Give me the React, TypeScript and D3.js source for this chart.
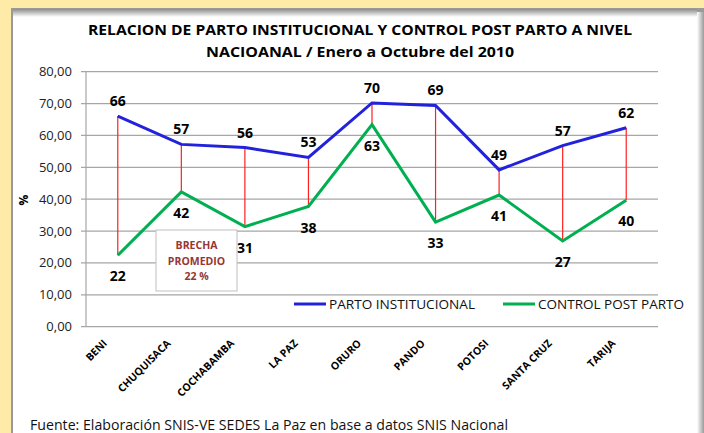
import { useEffect, useRef } from "react";
import * as d3 from "d3";

const departments = ["BENI", "CHUQUISACA", "COCHABAMBA", "LA PAZ", "ORURO", "PANDO", "POTOSI", "SANTA CRUZ", "TARIJA"];
const partoInstitucional = [66.1, 57.2, 56.2, 53.1, 70.2, 69.4, 49.2, 56.8, 62.4];
const controlPostParto = [22.4, 42.3, 31.4, 37.7, 63.4, 32.8, 41.3, 26.9, 39.7];
const yTicks = [0, 10, 20, 30, 40, 50, 60, 70, 80];
const titleLines = ["RELACION DE PARTO INSTITUCIONAL Y CONTROL POST PARTO A NIVEL", "NACIOANAL / Enero a Octubre del 2010"];
const noteLines = ["BRECHA", "PROMEDIO", "22 %"];

const FONT = "'Open Sans', 'Noto Sans', sans-serif";

function App() {
  const ref = useRef<SVGSVGElement>(null);

  useEffect(() => {
    draw();
    // eslint-disable-next-line
  }, []);

  function draw() {
    const svg = d3.select(ref.current);
    svg.selectAll("*").remove();

    const width = 704;
    const height = 433;
    const left = 86, right = 658, top = 71.7, bottom = 326.7;

    // background + panel
    svg.append("rect").attr("width", width).attr("height", height).attr("fill", "#FFEBA8");
    const defs = svg.append("defs");
    const gTop = defs.append("linearGradient").attr("id", "shTop").attr("x1", 0).attr("y1", 0).attr("x2", 0).attr("y2", 1);
    gTop.append("stop").attr("offset", 0).attr("stop-color", "#8c8c8c");
    gTop.append("stop").attr("offset", 1).attr("stop-color", "#ffffff");
    const gRight = defs.append("linearGradient").attr("id", "shRight").attr("x1", 0).attr("y1", 0).attr("x2", 1).attr("y2", 0);
    gRight.append("stop").attr("offset", 0).attr("stop-color", "#ffffff");
    gRight.append("stop").attr("offset", 1).attr("stop-color", "#9a9a9a");

    svg.append("rect").attr("x", 11).attr("y", 8).attr("width", 693).attr("height", height - 8).attr("fill", "#9a9a9a");
    svg.append("rect").attr("x", 13).attr("y", 9).attr("width", 684).attr("height", 8).attr("fill", "url(#shTop)");
    svg.append("rect").attr("x", 13).attr("y", 17).attr("width", 684).attr("height", height - 17).attr("fill", "#ffffff");
    svg.append("rect").attr("x", 697).attr("y", 12).attr("width", 7).attr("height", height - 12).attr("fill", "url(#shRight)");

    const x = d3.scaleBand().domain(departments).range([left, right]);
    const y = d3.scaleLinear().domain([0, 80]).range([bottom, top]);
    const cx = (d: string) => (x(d) as number) + x.bandwidth() / 2;

    // title
    svg.append("g").selectAll("text").data(titleLines).enter().append("text")
      .attr("x", 360)
      .attr("y", (_d, i) => 35 + i * 22)
      .attr("text-anchor", "middle")
      .attr("font-family", FONT)
      .attr("font-weight", "bold")
      .attr("font-size", 14.5)
      .attr("textLength", (_d, i) => (i === 0 ? 544 : 308))
      .attr("lengthAdjust", "spacingAndGlyphs")
      .text(d => d);

    // grid
    svg.append("g").selectAll("line").data(yTicks).enter().append("line")
      .attr("x1", left - 5).attr("x2", right)
      .attr("y1", d => y(d)).attr("y2", d => y(d))
      .attr("stroke", "#a6a6a6").attr("stroke-width", 1.2);
    svg.append("line").attr("x1", left).attr("x2", left).attr("y1", top).attr("y2", bottom)
      .attr("stroke", "#a6a6a6").attr("stroke-width", 1.2);

    svg.append("g").selectAll("text").data(yTicks).enter().append("text")
      .attr("x", left - 14)
      .attr("y", d => y(d) + 4.5)
      .attr("text-anchor", "end")
      .attr("font-family", FONT)
      .attr("font-size", 13)
      .attr("fill", "#222")
      .text(d => d3.format(".2f")(d).replace(".", ","));

    svg.append("text")
      .attr("transform", "translate(28,200) rotate(-90)")
      .attr("text-anchor", "middle")
      .attr("font-family", FONT)
      .attr("font-weight", "bold")
      .attr("font-size", 12)
      .text("%");

    // category labels
    svg.append("g").selectAll("text").data(departments).enter().append("text")
      .attr("transform", d => `translate(${cx(d) - 10},${344}) rotate(-45)`)
      .attr("text-anchor", "end")
      .attr("font-family", FONT)
      .attr("font-weight", "bold")
      .attr("font-size", 10.5)
      .text(d => d);

    // gap lines
    svg.append("g").selectAll("line").data(departments).enter().append("line")
      .attr("x1", d => cx(d)).attr("x2", d => cx(d))
      .attr("y1", (_d, i) => y(partoInstitucional[i]))
      .attr("y2", (_d, i) => y(controlPostParto[i]))
      .attr("stroke", "#ff2020").attr("stroke-width", 1.2);

    const line = d3.line<number>()
      .x((_d, i) => cx(departments[i]))
      .y(d => y(d));

    svg.append("path").datum(partoInstitucional).attr("d", line)
      .attr("fill", "none").attr("stroke", "#2222dd").attr("stroke-width", 3);
    svg.append("path").datum(controlPostParto).attr("d", line)
      .attr("fill", "none").attr("stroke", "#00b050").attr("stroke-width", 3);

    // data labels
    svg.append("g").selectAll("text").data(partoInstitucional).enter().append("text")
      .attr("x", (_d, i) => cx(departments[i]))
      .attr("y", d => y(d) - 10)
      .attr("text-anchor", "middle")
      .attr("font-family", FONT)
      .attr("font-weight", "bold")
      .attr("font-size", 14)
      .text(d => Math.round(d));
    svg.append("g").selectAll("text").data(controlPostParto).enter().append("text")
      .attr("x", (_d, i) => cx(departments[i]))
      .attr("y", d => y(d) + 26)
      .attr("text-anchor", "middle")
      .attr("font-family", FONT)
      .attr("font-weight", "bold")
      .attr("font-size", 14)
      .text(d => Math.round(d));

    // note box
    const note = svg.append("g").attr("transform", "translate(156,230)");
    note.append("rect").attr("width", 81).attr("height", 61)
      .attr("fill", "#fff").attr("stroke", "#bfbfbf").attr("stroke-width", 1);
    note.selectAll("text").data(noteLines).enter().append("text")
      .attr("x", 40.5)
      .attr("y", (_d, i) => 19 + i * 15.5)
      .attr("text-anchor", "middle")
      .attr("font-family", FONT)
      .attr("font-weight", "bold")
      .attr("font-size", 10.5)
      .attr("fill", "#953735")
      .text(d => d);

    // legend
    const legend = [
      { name: "PARTO INSTITUCIONAL", color: "#2222dd", x: 294 },
      { name: "CONTROL POST PARTO", color: "#00b050", x: 503 },
    ];
    const lg = svg.append("g").selectAll("g").data(legend).enter().append("g")
      .attr("transform", d => `translate(${d.x},304)`);
    lg.append("line").attr("x1", 0).attr("x2", 32).attr("stroke", d => d.color).attr("stroke-width", 3);
    lg.append("text").attr("x", 35).attr("y", 5)
      .attr("font-family", FONT).attr("font-size", 13).attr("fill", "#111")
      .attr("textLength", 146)
      .attr("lengthAdjust", "spacingAndGlyphs")
      .text(d => d.name);

    // source
    svg.append("text")
      .attr("x", 30).attr("y", 430)
      .attr("font-family", FONT)
      .attr("font-size", 14)
      .attr("textLength", 478)
      .attr("lengthAdjust", "spacingAndGlyphs")
      .attr("fill", "#111")
      .text("Fuente: Elaboración SNIS-VE SEDES La Paz en base a datos SNIS Nacional");
  }

  return (
    <div style={{ position: "absolute", left: 0, top: 0 }}>
      <svg ref={ref} width={704} height={433} style={{ display: "block" }}></svg>
    </div>
  );
}

export default App;
